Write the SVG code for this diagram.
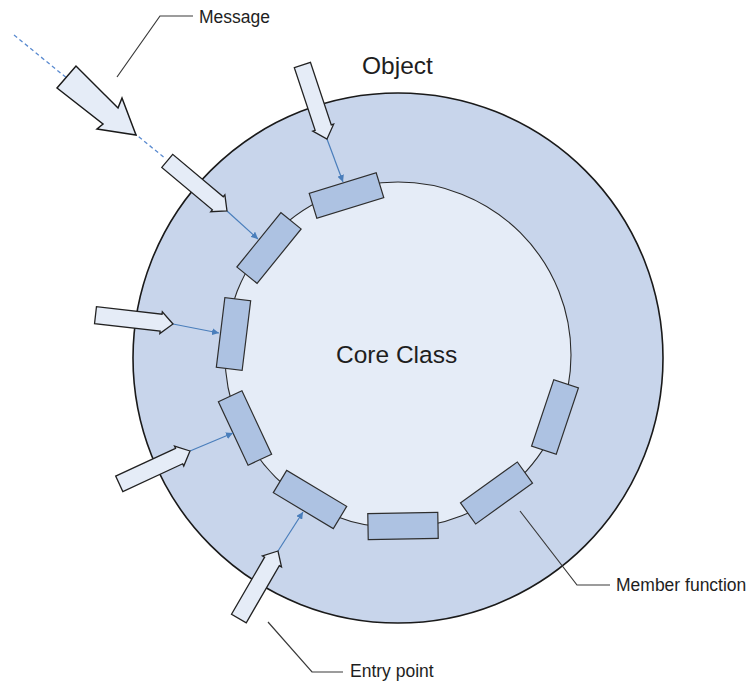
<svg xmlns="http://www.w3.org/2000/svg" width="748" height="683" viewBox="0 0 748 683">
  <style>
    .label { font-family: "Liberation Sans", Arial, sans-serif; fill: #1e1e1e; }
    .small { font-size: 17.5px; }
    .big { font-size: 24.5px; }
    .ring { fill: #c8d5eb; stroke: #1a1a1a; stroke-width: 1.6; }
    .core { fill: #e5ecf7; stroke: #2a2a2a; stroke-width: 1.1; }
    .member { fill: #adc2e2; stroke: #2e2e2e; stroke-width: 1.2; }
    .entry { fill: #e5ecf7; stroke: #222; stroke-width: 1.3; stroke-linejoin: miter; }
    .link { fill: none; stroke: #4a7ebb; stroke-width: 1.2; }
    .leader { fill: none; stroke: #3a3a3a; stroke-width: 1.2; }
  </style>
  <defs>
    <marker id="blueHead" viewBox="0 0 10 10" refX="10" refY="5" markerWidth="7" markerHeight="7" markerUnits="userSpaceOnUse" orient="auto">
      <path d="M0,0 L10,5 L0,10 Z" fill="#4a7ebb"/>
    </marker>
    <!-- block arrow, tip at origin pointing along +x -->
    <path id="entryArrow" d="M0,0 L-12,-11 L-12,-8.5 L-78,-8.5 L-78,8.5 L-12,8.5 L-12,11 Z"/>
  </defs>

  <!-- incoming message path -->
  <g id="message">
    <line x1="14" y1="35" x2="166" y2="159" stroke="#5b8bd0" stroke-width="1.3" stroke-dasharray="4,3"/>
    <polygon points="57,88 76,66 118,108 122,98 136,135 97,129 103,124" fill="#e5ecf7" stroke="#1a1a1a" stroke-width="1.5" stroke-linejoin="miter"/>
  </g>

  <!-- object shell and core class -->
  <g id="object">
    <circle class="ring" cx="398" cy="358" r="265"/>
  </g>
  <g id="core-class">
    <circle class="core" cx="398" cy="355" r="173"/>
  </g>

  <!-- member functions sitting on the core boundary -->
  <g id="member-functions">
    <rect class="member" x="-35" y="-13" width="70" height="26" transform="translate(346.5 195.5) rotate(-17)"/>
    <rect class="member" x="-35" y="-13" width="70" height="26" transform="translate(269 248) rotate(-51)"/>
    <rect class="member" x="-35" y="-13" width="70" height="26" transform="translate(233.5 334) rotate(97)"/>
    <rect class="member" x="-35" y="-13" width="70" height="26" transform="translate(245 428) rotate(64.9)"/>
    <rect class="member" x="-35" y="-13" width="70" height="26" transform="translate(310 499.5) rotate(31)"/>
    <rect class="member" x="-35" y="-13" width="70" height="26" transform="translate(403 526) rotate(-1)"/>
    <rect class="member" x="-35" y="-13" width="70" height="26" transform="translate(496.5 493) rotate(-35.7)"/>
    <rect class="member" x="-35" y="-13" width="70" height="26" transform="translate(555 417) rotate(-71.5)"/>
  </g>

  <!-- entry point to member function connectors -->
  <g id="connectors">
    <line class="link" x1="327" y1="139" x2="343" y2="182" marker-end="url(#blueHead)"/>
    <line class="link" x1="227" y1="211" x2="258" y2="239" marker-end="url(#blueHead)"/>
    <line class="link" x1="173" y1="324" x2="219" y2="333" marker-end="url(#blueHead)"/>
    <line class="link" x1="190" y1="451" x2="233" y2="433" marker-end="url(#blueHead)"/>
    <line class="link" x1="278" y1="551" x2="303" y2="512" marker-end="url(#blueHead)"/>
  </g>

  <!-- entry points -->
  <g id="entry-points">
    <use href="#entryArrow" class="entry" transform="translate(327 139) rotate(71.6)"/>
    <use href="#entryArrow" class="entry" transform="translate(227 211) rotate(40)"/>
    <use href="#entryArrow" class="entry" transform="translate(173 324) rotate(6.5)"/>
    <use href="#entryArrow" class="entry" transform="translate(190 451) rotate(-24.9)"/>
    <use href="#entryArrow" class="entry" transform="translate(278 551) rotate(-59.9)"/>
  </g>

  <!-- callouts -->
  <g id="callouts">
    <polyline class="leader" points="117,77 160,16 193,16"/>
    <polyline class="leader" points="520,511 577,585 610,585"/>
    <polyline class="leader" points="268,622 312,672 343,672"/>
    <text class="label small" x="199" y="22.5">Message</text>
    <text class="label small" x="616" y="591">Member function</text>
    <text class="label small" x="350" y="677">Entry point</text>
    <text class="label big" x="362" y="73.5">Object</text>
    <text class="label big" x="336" y="363">Core Class</text>
  </g>
</svg>
